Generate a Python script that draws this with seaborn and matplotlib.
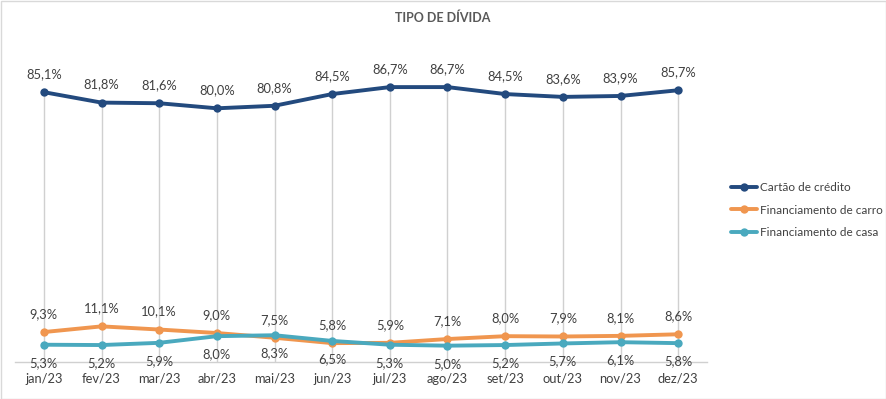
import numpy as np
import pandas as pd
import matplotlib
matplotlib.use("Agg")
import matplotlib.pyplot as plt
import seaborn as sns
from matplotlib.patches import Rectangle

months = ["jan/23", "fev/23", "mar/23", "abr/23", "mai/23", "jun/23",
          "jul/23", "ago/23", "set/23", "out/23", "nov/23", "dez/23"]
cartao = [85.1, 81.8, 81.6, 80.0, 80.8, 84.5, 86.7, 86.7, 84.5, 83.6, 83.9, 85.7]
carro = [9.3, 11.1, 10.1, 9.0, 7.5, 5.8, 5.9, 7.1, 8.0, 7.9, 8.1, 8.6]
casa = [5.3, 5.2, 5.9, 8.0, 8.3, 6.5, 5.3, 5.0, 5.2, 5.7, 6.1, 5.8]
series_names = ["Cartão de crédito", "Financiamento de carro", "Financiamento de casa"]
colors = ["#234A7E", "#F0964F", "#4AA9BE"]

sns.set_theme(style="white")
plt.rcParams["font.family"] = ["Lato", "DejaVu Sans"]

x = np.arange(len(months))
df = pd.DataFrame({
    "x": np.concatenate([x, x, x]),
    "valor": cartao + carro + casa,
    "serie": [series_names[0]] * 12 + [series_names[1]] * 12 + [series_names[2]] * 12,
})

fig = plt.figure(figsize=(8.86, 3.99), dpi=100)
ax = fig.add_axes([15 / 886, (399 - 361.5) / 399, 692 / 886, 316.5 / 399])

# drop lines
tops = np.maximum.reduce([np.array(cartao), np.array(carro), np.array(casa)])
ax.vlines(x, 0, tops, color="#D0D0D0", lw=1, zorder=1)

sns.lineplot(data=df, x="x", y="valor", hue="serie", palette=colors,
             hue_order=series_names, marker="o", markersize=6,
             markeredgewidth=0, linewidth=2.8, ax=ax, zorder=3)

ax.set_xlim(-0.5, 11.5)
ax.set_ylim(0, 100)
ax.set_xticks(x)
ax.set_xticklabels(months, fontsize=9.3, color="#404040")
ax.tick_params(axis="x", length=0, pad=8)
ax.set_yticks([])
ax.set_xlabel("")
ax.set_ylabel("")
for s in ["top", "right", "left"]:
    ax.spines[s].set_visible(False)
ax.spines["bottom"].set_color("#D0D0D0")
ax.spines["bottom"].set_linewidth(1)

def fmt(v):
    return f"{v:.1f}%".replace(".", ",")

for i in x:
    ax.annotate(fmt(cartao[i]), (i, cartao[i]), xytext=(0, 13), textcoords="offset points",
                ha="center", va="center", fontsize=9.3, color="#404040")
    ax.annotate(fmt(carro[i]), (i, carro[i]), xytext=(0, 13), textcoords="offset points",
                ha="center", va="center", fontsize=9.3, color="#404040")
    ax.annotate(fmt(casa[i]), (i, casa[i]), xytext=(0, -13), textcoords="offset points",
                ha="center", va="center", fontsize=9.3, color="#404040")

leg = ax.legend(loc="center left", bbox_to_anchor=(1.02, (361.5 - 210) / 316.5),
                frameon=False, fontsize=8.5, handlelength=2.2, handletextpad=0.2,
                labelspacing=1.0)
for t in leg.get_texts():
    t.set_color("#404040")

fig.text(0.5, 1 - 18 / 399, "TIPO DE DÍVIDA", ha="center", va="center",
         fontsize=9, fontweight="bold", color="#595959")

fig.patches.append(Rectangle((0.5 / 886, 0.5 / 399), 885 / 886, 398 / 399,
                             transform=fig.transFigure, fill=False,
                             edgecolor="#D9D9D9", lw=1))

fig.savefig("out.png", dpi=100)
